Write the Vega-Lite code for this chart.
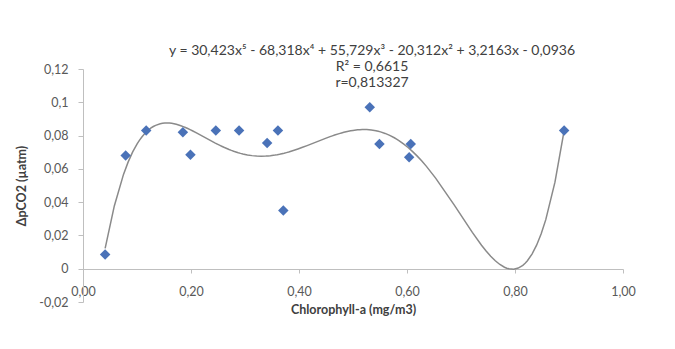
{
  "$schema": "https://vega.github.io/schema/vega-lite/v6.json",
  "width": 540,
  "height": 233,
  "autosize": "none",
  "padding": {"left": 83, "top": 69, "right": 52, "bottom": 47},
  "background": "white",
  "config": {
    "locale": {"number": {"decimal": ",", "thousands": ".", "grouping": [3], "currency": ["", ""], "minus": "-"}},
    "view": {"stroke": null},
    "font": "Lato",
    "axis": {"grid": false, "domainColor": "#bfbfbf", "tickColor": "#bfbfbf", "labelColor": "#595959", "labelFontSize": 12.5, "titleFontSize": 12.5, "titleColor": "#404040", "titleFontWeight": "bold", "labelOverlap": false, "labelFlush": false, "labelBound": false}
  },
  "title": {
    "text": ["y = 30,423x⁵ - 68,318x⁴ + 55,729x³ - 20,312x² + 3,2163x - 0,0936", "R² = 0,6615", "r=0,813327"],
    "anchor": "middle",
    "dx": 19,
    "offset": -27,
    "fontSize": 14,
    "fontWeight": "normal",
    "color": "#404040",
    "lineHeight": 16
  },
  "data": {
    "values": [
      {"chl": 0.041, "dpco2": 0.0085},
      {"chl": 0.079, "dpco2": 0.068},
      {"chl": 0.117, "dpco2": 0.083},
      {"chl": 0.185, "dpco2": 0.082},
      {"chl": 0.199, "dpco2": 0.0685},
      {"chl": 0.246, "dpco2": 0.083},
      {"chl": 0.289, "dpco2": 0.083},
      {"chl": 0.341, "dpco2": 0.0755},
      {"chl": 0.361, "dpco2": 0.083},
      {"chl": 0.371, "dpco2": 0.035},
      {"chl": 0.531, "dpco2": 0.097},
      {"chl": 0.549, "dpco2": 0.075},
      {"chl": 0.607, "dpco2": 0.075},
      {"chl": 0.604, "dpco2": 0.067},
      {"chl": 0.891, "dpco2": 0.083}
    ]
  },
  "encoding": {
    "x": {
      "field": "chl", "type": "quantitative",
      "scale": {"domain": [0, 1], "nice": false, "zero": false},
      "axis": {
        "title": "Chlorophyll-a (mg/m3)",
        "values": [0, 0.2, 0.4, 0.6, 0.8, 1.0],
        "format": ".2f",
        "labelOverlap": false,
        "offset": -33,
        "tickSize": 4,
        "labelPadding": 12,
        "titlePadding": 6
      }
    },
    "y": {
      "field": "dpco2", "type": "quantitative",
      "scale": {"domain": [-0.02, 0.12], "nice": false, "zero": false},
      "axis": {
        "title": "ΔpCO2 (µatm)",
        "values": [-0.02, 0, 0.02, 0.04, 0.06, 0.08, 0.1, 0.12],
        "format": ".2~f",
        "labelOverlap": false,
        "tickSize": 5,
        "labelPadding": 10,
        "titlePadding": 10
      }
    }
  },
  "layer": [
    {
      "transform": [{"regression": "dpco2", "on": "chl", "method": "poly", "order": 5}],
      "mark": {"type": "line", "color": "#8a8a8a", "strokeWidth": 1.5, "clip": false}
    },
    {
      "mark": {"type": "point", "shape": "diamond", "filled": true, "size": 110, "color": "#4a72b8", "opacity": 1}
    }
  ]
}
